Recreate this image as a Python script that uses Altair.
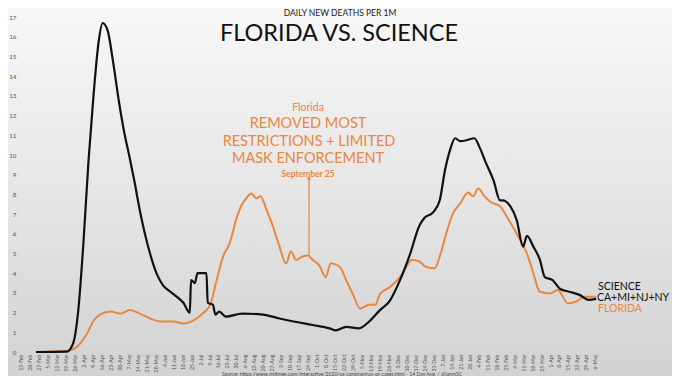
import altair as alt
import pandas as pd

# ---------------- data ----------------
sci_dates = ["2020-02-25", "2020-03-20", "2020-03-25", "2020-03-29", "2020-04-02", "2020-04-06",
             "2020-04-10", "2020-04-14", "2020-04-17", "2020-04-21", "2020-04-25", "2020-04-30",
             "2020-05-04", "2020-05-08", "2020-05-12", "2020-05-16", "2020-05-20", "2020-05-24",
             "2020-05-29", "2020-06-03", "2020-06-08", "2020-06-14", "2020-06-19", "2020-06-24",
             "2020-06-25", "2020-06-28", "2020-06-30", "2020-07-07", "2020-07-08", "2020-07-12",
             "2020-07-14", "2020-07-17", "2020-07-22", "2020-08-04", "2020-08-20", "2020-09-02",
             "2020-09-13", "2020-09-28", "2020-10-11", "2020-10-16", "2020-10-24", "2020-11-03",
             "2020-11-11", "2020-11-19", "2020-11-27", "2020-12-05", "2020-12-13", "2020-12-20",
             "2020-12-24", "2020-12-31", "2021-01-05", "2021-01-09", "2021-01-13", "2021-01-17",
             "2021-01-21", "2021-01-26", "2021-02-01", "2021-02-05", "2021-02-10", "2021-02-16",
             "2021-02-21", "2021-02-23", "2021-03-01", "2021-03-06", "2021-03-11", "2021-03-14",
             "2021-03-19", "2021-03-24", "2021-03-28", "2021-04-03", "2021-04-09", "2021-04-16",
             "2021-04-24", "2021-05-01", "2021-05-07"]
sci_vals = [0, 0.02, 0.44, 2.1, 5.5, 9.7,
            13.1, 15.8, 16.7, 16.3, 14.8, 12.6,
            11.1, 9.9, 8.6, 7.2, 6.0, 5.0,
            4.0, 3.4, 3.1, 2.8, 2.5, 2.0,
            3.65, 3.5, 4.0, 4.0, 2.5, 2.4,
            1.9, 2.05, 1.8, 1.95, 1.9, 1.7,
            1.55, 1.37, 1.2, 1.1, 1.28, 1.2,
            1.55, 2.1, 2.6, 3.65, 5.0, 6.4,
            6.8, 7.1, 7.7, 9.2, 10.25, 10.85,
            10.7, 10.75, 10.85, 10.4, 9.6, 8.7,
            7.7, 7.7, 7.4, 6.7, 5.35, 5.9,
            5.35, 4.7, 3.8, 3.65, 3.2, 3.06,
            2.9, 2.65, 2.7]

fl_dates = ["2020-03-01", "2020-03-20", "2020-03-28", "2020-04-05", "2020-04-10", "2020-04-15",
            "2020-04-23", "2020-05-01", "2020-05-08", "2020-05-16", "2020-05-24", "2020-06-01",
            "2020-06-11", "2020-06-19", "2020-06-27", "2020-07-04", "2020-07-10", "2020-07-15",
            "2020-07-20", "2020-07-25", "2020-07-31", "2020-08-03", "2020-08-07", "2020-08-11",
            "2020-08-15", "2020-08-18", "2020-08-23", "2020-08-28", "2020-09-02", "2020-09-07",
            "2020-09-11", "2020-09-15", "2020-09-20", "2020-09-24", "2020-09-28", "2020-10-03",
            "2020-10-08", "2020-10-12", "2020-10-19", "2020-10-24", "2020-10-29", "2020-11-04",
            "2020-11-11", "2020-11-16", "2020-11-19", "2020-11-27", "2020-12-05", "2020-12-10",
            "2020-12-14", "2020-12-20", "2020-12-25", "2021-01-01", "2021-01-05", "2021-01-10",
            "2021-01-15", "2021-01-21", "2021-01-27", "2021-01-31", "2021-02-04", "2021-02-09",
            "2021-02-14", "2021-02-21", "2021-02-26", "2021-03-06", "2021-03-14", "2021-03-19",
            "2021-03-24", "2021-04-01", "2021-04-07", "2021-04-15", "2021-04-21", "2021-04-28",
            "2021-05-07"]
fl_vals = [0, 0.05, 0.27, 0.95, 1.6, 1.9,
           2.05, 1.95, 2.13, 1.95, 1.7, 1.55,
           1.55, 1.45, 1.6, 1.95, 2.4, 3.65,
           4.85, 5.5, 6.9, 7.4, 7.8, 8.05,
           7.8, 7.9, 7.2, 6.35, 5.35, 4.5,
           5.1, 4.67, 4.85, 4.9, 4.67, 4.4,
           3.8, 4.5, 4.33, 3.65, 2.97, 2.2,
           2.4, 2.4, 2.9, 3.3, 3.8, 4.33,
           4.67, 4.6, 4.33, 4.25, 4.85, 6.0,
           7.0, 7.55, 8.1, 7.9, 8.3, 7.9,
           7.6, 7.4, 6.9, 6.0, 5.0, 4.0,
           3.06, 2.97, 3.15, 2.47, 2.55, 2.8,
           2.8]

annot_date = ["2020-09-25"]
annot_top = [8.8]
annot_bottom = [4.9]

x_domain = ["2020-02-11", "2021-05-10"]
tick_dates = [d.strftime("%Y-%m-%d") for d in pd.date_range("2020-02-13", "2021-05-06", freq="7D")]
y_ticks = list(range(0, 18))

title_lines = ["DAILY NEW DEATHS PER 1M", "FLORIDA VS. SCIENCE"]
annot_lines = ["Florida", "REMOVED MOST", "RESTRICTIONS + LIMITED", "MASK ENFORCEMENT", "September 25"]
end_labels = ["SCIENCE", "CA+MI+NJ+NY", "FLORIDA"]
source_text = "Source: https://www.nytimes.com/interactive/2020/us/coronavirus-us-cases.html - 14 Day Avg. / @ianmSC"

# ---------------- styling ----------------
ORANGE = "#E8873F"
BLACK = "#111111"
FONT = "Lato"
W, H = 582, 344
PAD = {"left": 10, "top": 0, "right": 72, "bottom": 24}


def ms(s):
    return int(pd.Timestamp(s).value // 10**6)


x_scale = alt.Scale(type="utc", domain=[ms(x_domain[0]), ms(x_domain[1])], nice=False)
y_scale = alt.Scale(domain=[0, 17.462], nice=False, zero=True)

x_axis = alt.Axis(values=[ms(d) for d in tick_dates],
                  labelExpr="utcFormat(datum.value, '%-d-%b')",
                  labelAngle=270, labelFontSize=5.2, labelColor="#555555", labelFont=FONT,
                  labelPadding=2, labelOverlap=False, labelBound=False, labelFlush=False,
                  title=None, domain=False, ticks=False, grid=False, zindex=1)
y_axis = alt.Axis(values=y_ticks, labelFontSize=6.3, labelColor="#555555", labelFont=FONT,
                  labelPadding=2, labelOverlap=False, title=None, domain=False, ticks=False,
                  grid=False, zindex=1)


def X():
    return alt.X("date:T", scale=x_scale, axis=x_axis)


def Y():
    return alt.Y("value:Q", scale=y_scale, axis=y_axis)


sci_df = pd.DataFrame({"date": sci_dates, "value": sci_vals})
fl_df = pd.DataFrame({"date": fl_dates, "value": fl_vals})
ann_df = pd.DataFrame({"date": annot_date, "value": annot_top, "value2": annot_bottom})

bg = alt.Chart(pd.DataFrame({"k": [0]})).mark_rect(
    color=alt.Gradient(gradient="linear",
                       stops=[alt.GradientStop(color="#f7f7f7", offset=0),
                              alt.GradientStop(color="#e6e6e6", offset=0.5),
                              alt.GradientStop(color="#d2d2d2", offset=1)],
                       x1=0, x2=0, y1=0, y2=1)
).encode(x=alt.value(-PAD["left"]), x2=alt.value(W + PAD["right"]),
         y=alt.value(0), y2=alt.value(H + PAD["bottom"]))

fl_line = alt.Chart(fl_df).mark_line(color=ORANGE, strokeWidth=2, interpolate="monotone").encode(
    x=X(), y=Y())
sci_line = alt.Chart(sci_df).mark_line(color=BLACK, strokeWidth=2.2, interpolate="monotone").encode(
    x=X(), y=Y())
rule = alt.Chart(ann_df).mark_rule(color=ORANGE, strokeWidth=1.2).encode(
    x=X(), y=Y(), y2="value2:Q")
dot = alt.Chart(ann_df).mark_point(color=ORANGE, filled=True, size=10, opacity=1).encode(
    x=X(), y=Y())


def label(text, x, y, size, color, align="center", weight="normal"):
    return alt.Chart(pd.DataFrame({"t": [text]})).mark_text(
        align=align, baseline="middle", fontSize=size, color=color, font=FONT, fontWeight=weight
    ).encode(x=alt.value(x), y=alt.value(y), text="t:N")


texts = [
    label(title_lines[0], 322, 4.5, 8.5, "#222222"),
    label(title_lines[1], 321, 26, 23.5, BLACK),
    label(annot_lines[0], 290, 100, 10.5, ORANGE),
    label(annot_lines[1], 290, 115.5, 14.5, ORANGE),
    label(annot_lines[2], 291, 133.5, 14.5, ORANGE),
    label(annot_lines[3], 290, 151, 14.5, ORANGE),
    label(annot_lines[4], 290, 165.5, 8.5, ORANGE, weight="bold"),
    label(end_labels[0], 580, 278.5, 10.5, BLACK, align="left"),
    label(end_labels[1], 579, 290.3, 10.5, BLACK, align="left"),
    label(end_labels[2], 580, 301.3, 10.5, ORANGE, align="left"),
    label(source_text, 324, 365.5, 5.1, "#444444"),
]

chart = alt.layer(bg, fl_line, sci_line, rule, dot, *texts).properties(
    width=W, height=H,
    padding=PAD,
    autosize=alt.AutoSizeParams(type="none"),
).configure(background="#e4e4e4").configure_view(stroke=None)

chart.save("out.html", embed_options={"renderer": "svg", "actions": False})
